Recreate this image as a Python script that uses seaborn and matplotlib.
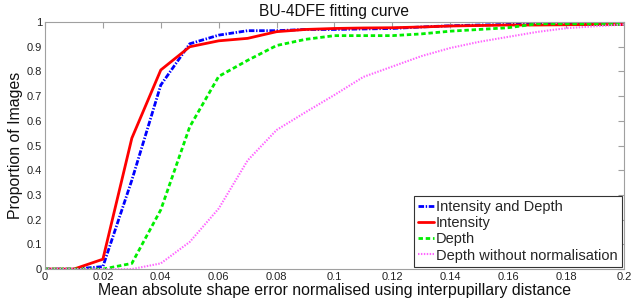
import matplotlib
matplotlib.use("Agg")
import matplotlib.pyplot as plt
import seaborn as sns
import pandas as pd
from matplotlib.ticker import FuncFormatter

x_vals = [0.00, 0.01, 0.02, 0.03, 0.04, 0.05, 0.06, 0.07, 0.08, 0.09, 0.10,
          0.11, 0.12, 0.13, 0.14, 0.15, 0.16, 0.17, 0.18, 0.19, 0.20]

intensity_depth = [0, 0, 0.01, 0.36, 0.745, 0.912, 0.947, 0.965, 0.965, 0.970, 0.970,
                   0.972, 0.974, 0.980, 0.985, 0.988, 0.990, 0.993, 0.991, 0.990, 0.990]
intensity = [0, 0, 0.04, 0.53, 0.806, 0.900, 0.924, 0.934, 0.961, 0.970, 0.974,
             0.976, 0.977, 0.980, 0.984, 0.986, 0.988, 0.988, 0.989, 0.990, 0.990]
depth = [0, 0, 0, 0.023, 0.24, 0.576, 0.780, 0.845, 0.905, 0.930, 0.945,
         0.945, 0.945, 0.952, 0.963, 0.970, 0.977, 0.993, 0.993, 0.992, 0.990]
depth_no_norm = [0, 0, 0, 0, 0.023, 0.11, 0.245, 0.44, 0.563, 0.635, 0.705,
                 0.778, 0.820, 0.862, 0.895, 0.920, 0.940, 0.960, 0.975, 0.983, 0.990]

series_names = ["Intensity and Depth", "Intensity", "Depth", "Depth without normalisation"]
series_values = [intensity_depth, intensity, depth, depth_no_norm]
colors = ["#0000ff", "#ff0000", "#00ee00", "#ff66ff"]
dash_patterns = [(0, (2.0, 0.6, 0.5, 0.6)), "-", (0, (1.6, 1.0)), (0, (0.7, 0.7))]
widths = [2.0, 2.0, 2.0, 1.5]

title = "BU-4DFE fitting curve"
xlabel = "Mean absolute shape error normalised using interpupillary distance"
ylabel = "Proportion of Images"
x_ticks = [0, 0.02, 0.04, 0.06, 0.08, 0.1, 0.12, 0.14, 0.16, 0.18, 0.2]
y_ticks = [0, 0.1, 0.2, 0.3, 0.4, 0.5, 0.6, 0.7, 0.8, 0.9, 1]

sns.set_style("white")
plt.rcParams['font.family'] = ['Liberation Sans', 'DejaVu Sans']

fig = plt.figure(figsize=(6.4, 3.02), dpi=100)
ax = fig.add_axes([0.0703, 0.109, 0.9047, 0.818])

for name, vals, c, ls, lw in zip(series_names, series_values, colors, dash_patterns, widths):
    df = pd.DataFrame({"x": x_vals, "y": vals})
    sns.lineplot(data=df, x="x", y="y", ax=ax, color=c, linestyle=ls,
                 linewidth=lw, label=name)

ax.set_xlim(0, 0.2)
ax.set_ylim(0, 1)
ax.set_xticks(x_ticks)
ax.set_yticks(y_ticks)
fmt = FuncFormatter(lambda v, p: ("%g" % round(v, 4)))
ax.xaxis.set_major_formatter(fmt)
ax.yaxis.set_major_formatter(fmt)
ax.tick_params(direction="in", length=4, width=0.8, color="#a0a0a0",
               labelsize=8, top=True, right=True, labelcolor="#222222", pad=2)
for s in ax.spines.values():
    s.set_color("#a0a0a0")
    s.set_linewidth(0.8)

ax.set_title(title, fontsize=11.2, pad=4, color="#111111")
ax.set_xlabel(xlabel, fontsize=11.4, labelpad=1, color="#111111")
ax.set_ylabel(ylabel, fontsize=11.4, labelpad=3, color="#111111")

leg = ax.legend(loc="lower right", bbox_to_anchor=(1.0, 0.0), fontsize=10.5,
                frameon=True, fancybox=False, framealpha=1, edgecolor="#333333",
                handlelength=1.05, handletextpad=0.15, borderpad=0.3,
                labelspacing=0.15, borderaxespad=0.15)
leg.get_frame().set_linewidth(0.8)

fig.savefig("out.png", dpi=100)
